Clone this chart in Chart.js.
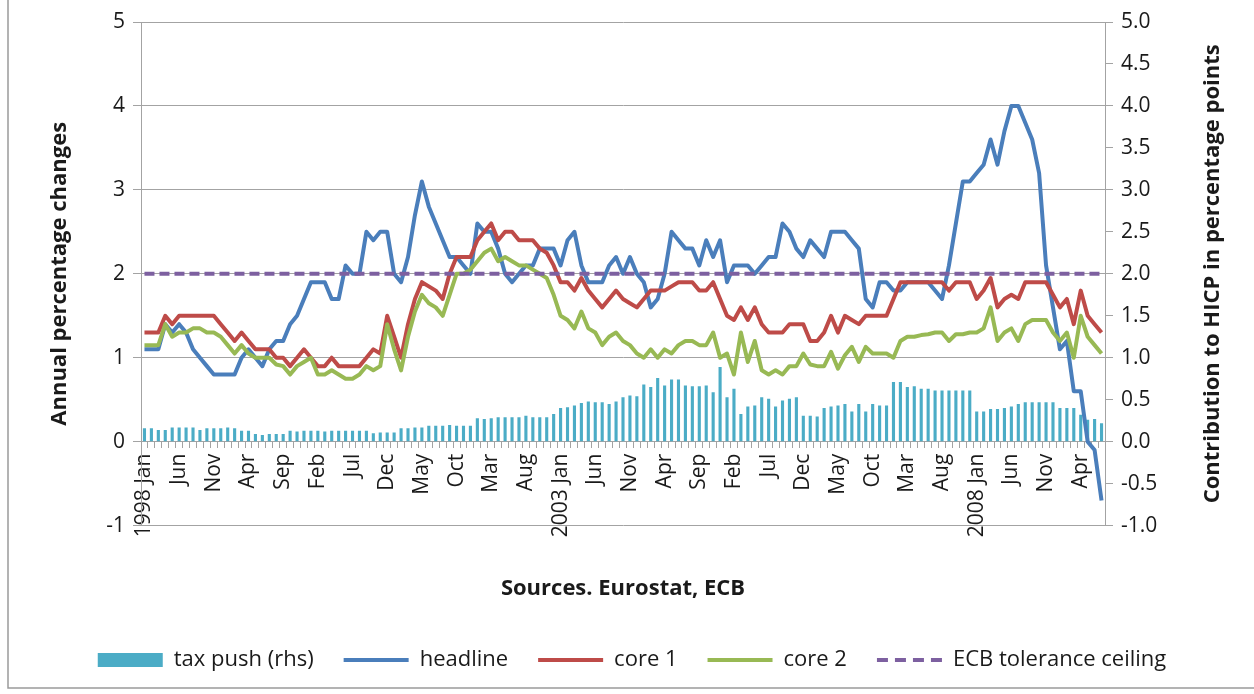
<!DOCTYPE html>
<html>
<head>
<meta charset="utf-8">
<title>HICP inflation and tax push</title>
<script src="https://cdn.jsdelivr.net/npm/chart.js@4.4.1/dist/chart.umd.min.js"></script>
<style>
  html, body { margin: 0; padding: 0; background: #ffffff; }
</style>
</head>
<body>
<canvas id="hicpChart" width="1254" height="694"></canvas>
<script>
// Monthly categories, 1998 Jan .. 2009 Jul
const monthNames = ["Jan", "Feb", "Mar", "Apr", "May", "Jun", "Jul", "Aug", "Sep", "Oct", "Nov", "Dec"];
const years = [1998, 1999, 2000, 2001, 2002, 2003, 2004, 2005, 2006, 2007, 2008, 2009];
const lastMonth = "Jul";
const labelEvery = 5;

const categories = [];
years.forEach((year) => {
  monthNames.forEach((m) => {
    if (year === 2009 && monthNames.indexOf(m) > monthNames.indexOf(lastMonth)) return;
    categories.push(`${year} ${m}`);
  });
});

// Annual percentage changes (lhs)
const headline = [
  1.1, 1.1, 1.1, 1.4, 1.3, 1.4, 1.3, 1.1, 1.0, 0.9, 0.8, 0.8,
  0.8, 0.8, 1.0, 1.1, 1.0, 0.9, 1.1, 1.2, 1.2, 1.4, 1.5, 1.7,
  1.9, 1.9, 1.9, 1.7, 1.7, 2.1, 2.0, 2.0, 2.5, 2.4, 2.5, 2.5,
  2.0, 1.9, 2.2, 2.7, 3.1, 2.8, 2.6, 2.4, 2.2, 2.2, 2.1, 2.0,
  2.6, 2.5, 2.5, 2.3, 2.0, 1.9, 2.0, 2.1, 2.1, 2.3, 2.3, 2.3,
  2.1, 2.4, 2.5, 2.1, 1.9, 1.9, 1.9, 2.1, 2.2, 2.0, 2.2, 2.0,
  1.9, 1.6, 1.7, 2.0, 2.5, 2.4, 2.3, 2.3, 2.1, 2.4, 2.2, 2.4,
  1.9, 2.1, 2.1, 2.1, 2.0, 2.1, 2.2, 2.2, 2.6, 2.5, 2.3, 2.2,
  2.4, 2.3, 2.2, 2.5, 2.5, 2.5, 2.4, 2.3, 1.7, 1.6, 1.9, 1.9,
  1.8, 1.8, 1.9, 1.9, 1.9, 1.9, 1.8, 1.7, 2.1, 2.6, 3.1, 3.1,
  3.2, 3.3, 3.6, 3.3, 3.7, 4.0, 4.0, 3.8, 3.6, 3.2, 2.1, 1.6,
  1.1, 1.2, 0.6, 0.6, 0.0, -0.1, -0.7,
];

const core1 = [
  1.3, 1.3, 1.3, 1.5, 1.4, 1.5, 1.5, 1.5, 1.5, 1.5, 1.5, 1.4,
  1.3, 1.2, 1.3, 1.2, 1.1, 1.1, 1.1, 1.0, 1.0, 0.9, 1.0, 1.1,
  1.0, 0.9, 0.9, 1.0, 0.9, 0.9, 0.9, 0.9, 1.0, 1.1, 1.05, 1.5,
  1.25, 1.0, 1.4, 1.7, 1.9, 1.85, 1.8, 1.7, 2.0, 2.2, 2.2, 2.2,
  2.4, 2.5, 2.6, 2.4, 2.5, 2.5, 2.4, 2.4, 2.4, 2.3, 2.25, 2.1,
  1.9, 1.9, 1.8, 1.95, 1.8, 1.7, 1.6, 1.7, 1.8, 1.7, 1.65, 1.6,
  1.7, 1.8, 1.8, 1.8, 1.85, 1.9, 1.9, 1.9, 1.8, 1.8, 1.9, 1.7,
  1.5, 1.45, 1.6, 1.45, 1.6, 1.4, 1.3, 1.3, 1.3, 1.4, 1.4, 1.4,
  1.2, 1.2, 1.3, 1.5, 1.3, 1.5, 1.45, 1.4, 1.5, 1.5, 1.5, 1.5,
  1.7, 1.9, 1.9, 1.9, 1.9, 1.9, 1.9, 1.9, 1.8, 1.9, 1.9, 1.9,
  1.7, 1.8, 1.95, 1.6, 1.7, 1.75, 1.7, 1.9, 1.9, 1.9, 1.9, 1.75,
  1.6, 1.7, 1.4, 1.8, 1.5, 1.4, 1.3,
];

const core2 = [
  1.15, 1.15, 1.15, 1.4, 1.25, 1.3, 1.3, 1.35, 1.35, 1.3, 1.3, 1.25,
  1.15, 1.05, 1.15, 1.05, 1.0, 1.0, 1.0, 0.92, 0.9, 0.8, 0.9, 0.95,
  1.0, 0.8, 0.8, 0.85, 0.8, 0.75, 0.75, 0.8, 0.9, 0.85, 0.9, 1.4,
  1.1, 0.85, 1.25, 1.55, 1.75, 1.65, 1.6, 1.5, 1.75, 2.0, 2.0, 2.05,
  2.15, 2.25, 2.3, 2.15, 2.2, 2.15, 2.1, 2.1, 2.05, 2.0, 1.95, 1.75,
  1.5, 1.45, 1.35, 1.55, 1.35, 1.3, 1.15, 1.25, 1.3, 1.2, 1.15, 1.05,
  1.0, 1.1, 1.0, 1.1, 1.05, 1.15, 1.2, 1.2, 1.15, 1.15, 1.3, 1.0,
  1.05, 0.8, 1.3, 0.95, 1.2, 0.85, 0.8, 0.85, 0.8, 0.9, 0.9, 1.05,
  0.92, 0.9, 0.9, 1.07, 0.87, 1.03, 1.13, 0.95, 1.13, 1.05, 1.05, 1.05,
  1.0, 1.2, 1.25, 1.25, 1.27, 1.28, 1.3, 1.3, 1.2, 1.28, 1.28, 1.3,
  1.3, 1.35, 1.6, 1.2, 1.3, 1.35, 1.2, 1.4, 1.45, 1.45, 1.45, 1.3,
  1.2, 1.3, 1.0, 1.5, 1.25, 1.15, 1.05,
];

// Contribution to HICP in percentage points (rhs)
const taxPush = [
  0.16, 0.16, 0.14, 0.14, 0.17, 0.17, 0.17, 0.17, 0.14, 0.16, 0.16, 0.16,
  0.17, 0.16, 0.13, 0.13, 0.09, 0.08, 0.09, 0.09, 0.09, 0.13, 0.12, 0.13,
  0.13, 0.13, 0.12, 0.13, 0.13, 0.13, 0.13, 0.13, 0.13, 0.10, 0.11, 0.11,
  0.11, 0.16, 0.16, 0.17, 0.17, 0.19, 0.19, 0.19, 0.20, 0.19, 0.19, 0.19,
  0.28, 0.27, 0.28, 0.29, 0.29, 0.29, 0.29, 0.31, 0.29, 0.29, 0.29, 0.33,
  0.40, 0.41, 0.43, 0.46, 0.48, 0.47, 0.47, 0.45, 0.48, 0.53, 0.55, 0.54,
  0.68, 0.65, 0.76, 0.67, 0.74, 0.74, 0.67, 0.66, 0.66, 0.67, 0.59, 0.89,
  0.53, 0.63, 0.33, 0.42, 0.43, 0.53, 0.51, 0.42, 0.49, 0.51, 0.53, 0.31,
  0.31, 0.30, 0.40, 0.42, 0.43, 0.45, 0.36, 0.45, 0.36, 0.45, 0.43, 0.43,
  0.71, 0.71, 0.65, 0.66, 0.63, 0.63, 0.61, 0.61, 0.61, 0.61, 0.61, 0.61,
  0.36, 0.36, 0.39, 0.39, 0.40, 0.42, 0.45, 0.47, 0.47, 0.47, 0.47, 0.47,
  0.40, 0.40, 0.40, 0.32, 0.26, 0.27, 0.22,
];

const ecbCeiling = 2;

// Axis tick values
const leftTicks = [-1, 0, 1, 2, 3, 4, 5];
const rightTicks = [-1.0, -0.5, 0.0, 0.5, 1.0, 1.5, 2.0, 2.5, 3.0, 3.5, 4.0, 4.5, 5.0];

const gridGrey = "#a3a3a3";
const textColor = "#1a1a1a";
const fontFamily = "'Open Sans', 'DejaVu Sans', sans-serif";

Chart.defaults.font.family = fontFamily;
Chart.defaults.color = textColor;

// Outer frame of the chart object + right axis title (reads bottom to top)
const framePlugin = {
  id: "frame",
  afterDraw(chart) {
    const c = chart.ctx;
    const area = chart.chartArea;
    c.save();
    c.strokeStyle = "#9a9a9a";
    c.lineWidth = 1.5;
    c.beginPath();
    c.moveTo(8, 0);
    c.lineTo(8, 688);
    c.lineTo(chart.width, 688);
    c.stroke();

    c.translate(1213, (area.top + area.bottom) / 2);
    c.rotate(-Math.PI / 2);
    c.fillStyle = textColor;
    c.font = `bold 22px ${fontFamily}`;
    c.textAlign = "center";
    c.textBaseline = "middle";
    c.fillText("Contribution to HICP in percentage points", 0, 0);
    c.restore();
  },
};

const ctx = document.getElementById("hicpChart").getContext("2d");

const lineStyle = {
  type: "line",
  yAxisID: "y",
  borderWidth: 4,
  pointRadius: 0,
  tension: 0,
  borderJoinStyle: "round",
};

const hicpChart = new Chart(ctx, {
  type: "bar",
  data: {
    labels: categories,
    datasets: [
      {
        type: "bar",
        label: "tax push (rhs)",
        data: taxPush,
        yAxisID: "y2",
        backgroundColor: "#4bacc6",
        borderWidth: 0,
        barPercentage: 0.45,
        categoryPercentage: 1,
        order: 10,
      },
      {
        ...lineStyle,
        label: "headline",
        data: headline,
        borderColor: "#4a7ebb",
        backgroundColor: "#4a7ebb",
        order: 4,
      },
      {
        ...lineStyle,
        label: "core 1",
        data: core1,
        borderColor: "#be4b48",
        backgroundColor: "#be4b48",
        order: 3,
      },
      {
        ...lineStyle,
        label: "core 2",
        data: core2,
        borderColor: "#98b954",
        backgroundColor: "#98b954",
        order: 2,
      },
      {
        ...lineStyle,
        label: "ECB tolerance ceiling",
        data: [
          { x: categories[0], y: ecbCeiling },
          { x: categories[categories.length - 1], y: ecbCeiling },
        ],
        borderColor: "#7d60a0",
        backgroundColor: "#7d60a0",
        borderDash: [10, 5],
        order: 1,
      },
    ],
  },
  options: {
    responsive: false,
    animation: false,
    devicePixelRatio: 1,
    layout: {
      padding: { left: 40, right: 30, top: 22, bottom: 13 },
    },
    plugins: {
      tooltip: { enabled: false },
      legend: {
        position: "bottom",
        // empty title only used to push the legend row down below the axis text
        title: { display: true, text: "", padding: { top: 79, bottom: 0 } },
        labels: {
          usePointStyle: true,
          pointStyleWidth: 65,
          boxHeight: 14,
          padding: 30,
          color: textColor,
          font: { size: 22 },
          sort: (a, b) => a.datasetIndex - b.datasetIndex,
          generateLabels(chart) {
            const items = Chart.defaults.plugins.legend.labels.generateLabels(chart);
            items.forEach((item) => {
              const ds = chart.data.datasets[item.datasetIndex];
              if (item.datasetIndex === 0) {
                item.pointStyle = "rect";
                item.lineWidth = 0;
              } else {
                item.pointStyle = "line";
                item.lineWidth = ds.borderWidth;
                item.strokeStyle = ds.borderColor;
                // legend sample dashes a bit longer, 4 dashes across the sample
                item.lineDash = ds.borderDash ? [11, 7] : [];
              }
            });
            return items;
          },
        },
      },
    },
    scales: {
      x: {
        position: { y: 0 },
        offset: true,
        grid: {
          offset: true,
          drawOnChartArea: false,
          drawTicks: true,
          tickLength: 6,
          color: gridGrey,
        },
        border: { display: true, color: gridGrey, width: 1 },
        ticks: {
          autoSkip: false,
          minRotation: 90,
          maxRotation: 90,
          padding: 6,
          color: textColor,
          font: { size: 21 },
          callback(value, index) {
            if (index % labelEvery !== 0) return "";
            const [year, month] = categories[index].split(" ");
            return month === "Jan" ? `${year} Jan` : month;
          },
        },
        title: {
          display: true,
          text: "Sources. Eurostat, ECB",
          color: textColor,
          font: { size: 22, weight: "bold" },
          padding: { top: 32, bottom: 0 },
        },
      },
      y: {
        position: "left",
        min: leftTicks[0],
        max: leftTicks[leftTicks.length - 1],
        ticks: { stepSize: 1, padding: 8, color: textColor, font: { size: 21 } },
        grid: { color: gridGrey, tickLength: 8 },
        border: { color: gridGrey },
        title: {
          display: true,
          text: "Annual percentage changes",
          color: textColor,
          font: { size: 22, weight: "bold" },
          padding: { top: 7, bottom: 0 },
        },
        afterFit(scale) {
          scale.width = 101;
        },
      },
      y2: {
        position: "right",
        min: rightTicks[0],
        max: rightTicks[rightTicks.length - 1],
        ticks: {
          stepSize: 0.5,
          padding: 8,
          color: textColor,
          font: { size: 21 },
          callback: (v) => v.toFixed(1),
        },
        grid: { drawOnChartArea: false, color: gridGrey, tickLength: 8 },
        border: { color: gridGrey },
        afterFit(scale) {
          scale.width = 119;
        },
      },
    },
  },
  plugins: [framePlugin],
});
</script>
</body>
</html>
